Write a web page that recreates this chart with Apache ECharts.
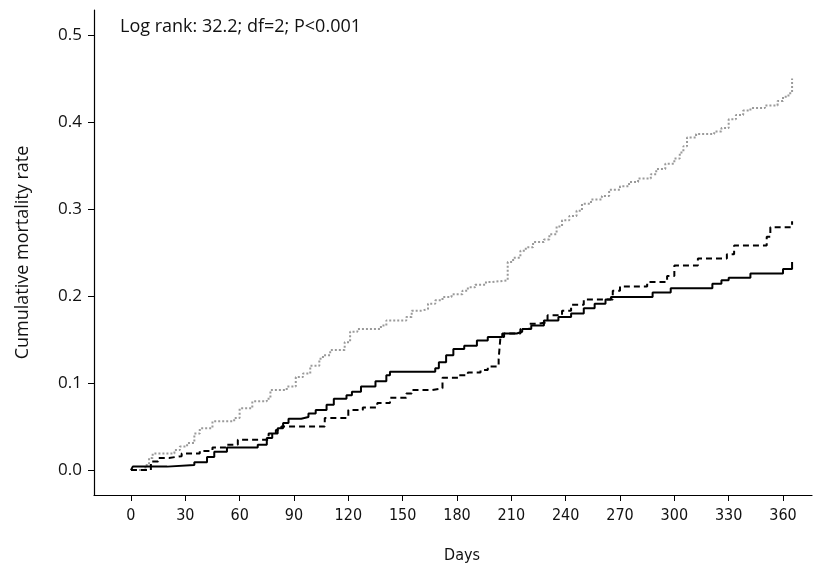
<!DOCTYPE html>
<html>
<head>
<meta charset="utf-8">
<script src="https://cdn.jsdelivr.net/npm/echarts@6/dist/echarts.min.js"></script>
<style>html,body{margin:0;padding:0;background:#fff;}#c{width:824px;height:569px;}</style>
</head>
<body>
<div id="c"></div>
<script>
// Kaplan-Meier style cumulative mortality, [day, rate] step points
const solidGroup = [[0,0],[1,0.004],[20,0.006],[35,0.009],[42,0.015],[46,0.021],[53,0.026],[70,0.029],[75,0.037],[78,0.042],[81,0.048],[84,0.054],[87,0.059],[94,0.061],[98,0.065],[102,0.069],[108,0.075],[112,0.082],[119,0.086],[122,0.09],[127,0.096],[135,0.102],[141,0.109],[143,0.113],[168,0.117],[170,0.124],[174,0.132],[178,0.139],[184,0.143],[191,0.149],[197,0.153],[205,0.157],[213,0.159],[216,0.162],[221,0.166],[228,0.172],[236,0.176],[243,0.18],[250,0.186],[256,0.191],[262,0.196],[265,0.199],[288,0.204],[298,0.209],[321,0.214],[326,0.218],[330,0.221],[342,0.226],[360,0.231],[365,0.239]];
const dashedGroup = [[0,0],[11,0.01],[15,0.014],[21,0.016],[28,0.019],[38,0.022],[45,0.026],[53,0.029],[59,0.035],[76,0.042],[80,0.046],[83,0.05],[107,0.06],[120,0.069],[128,0.072],[136,0.077],[143,0.083],[152,0.088],[155,0.092],[166,0.094],[172,0.106],[181,0.109],[186,0.112],[193,0.115],[197,0.119],[203,0.128],[204,0.153],[206,0.157],[215,0.162],[220,0.168],[224,0.17],[230,0.178],[238,0.183],[243,0.19],[250,0.196],[266,0.206],[270,0.211],[285,0.216],[296,0.223],[300,0.235],[313,0.243],[329,0.248],[333,0.258],[351,0.268],[353,0.279],[365,0.286]];
const dottedGroup = [[0,0],[3,0],[8,0.006],[10,0.014],[12,0.019],[24,0.023],[27,0.027],[31,0.031],[35,0.042],[38,0.048],[45,0.056],[57,0.06],[60,0.071],[67,0.079],[75,0.082],[77,0.092],[86,0.096],[91,0.107],[95,0.111],[99,0.12],[104,0.128],[106,0.132],[110,0.138],[118,0.147],[121,0.159],[125,0.162],[138,0.166],[141,0.172],[152,0.176],[155,0.183],[160,0.185],[164,0.191],[168,0.195],[172,0.199],[177,0.202],[183,0.206],[186,0.21],[190,0.213],[196,0.216],[199,0.218],[208,0.239],[211,0.244],[215,0.252],[218,0.256],[222,0.262],[228,0.265],[231,0.271],[235,0.28],[238,0.287],[242,0.292],[246,0.298],[249,0.306],[254,0.311],[260,0.315],[264,0.322],[270,0.326],[275,0.331],[280,0.335],[287,0.34],[290,0.346],[295,0.352],[300,0.358],[303,0.365],[305,0.372],[307,0.382],[312,0.386],[322,0.389],[326,0.393],[330,0.403],[334,0.408],[338,0.413],[342,0.416],[350,0.419],[357,0.424],[360,0.429],[363,0.433],[365,0.45]];
const xTicks = [0,30,60,90,120,150,180,210,240,270,300,330,360];
const yTicks = [0,0.1,0.2,0.3,0.4,0.5];
const annotation = 'Log rank: 32.2; df=2; P<0.001';

const chart = echarts.init(document.getElementById('c'), null, {renderer:'canvas'});
const axisColor = '#000';
chart.setOption({
  animation: false,
  backgroundColor: '#fff',
  grid: {left: 94, right: 12, top: 10, bottom: 72, containLabel: false},
  xAxis: {
    type: 'value', min: -20.4, max: 376,
    name: 'Days', nameLocation: 'middle', nameGap: 53,
    nameTextStyle: {fontFamily: 'DejaVu Sans Condensed', fontSize: 16, color: '#111', padding: [0,0,0,18]},
    axisLine: {show: true, onZero: false, lineStyle: {color: axisColor, width: 1.2}},
    axisTick: {show: true, customValues: xTicks, length: 6, lineStyle: {color: axisColor, width: 1}},
    axisLabel: {customValues: xTicks, margin: 13, fontFamily: 'DejaVu Sans Condensed', fontSize: 16, color: '#111'},
    splitLine: {show: false}
  },
  yAxis: {
    type: 'value', min: -0.0286, max: 0.5286,
    name: 'Cumulative mortality rate', nameLocation: 'middle', nameGap: 62,
    nameTextStyle: {fontFamily: 'Open Sans', fontSize: 18, color: '#111'},
    axisLine: {show: true, onZero: false, lineStyle: {color: axisColor, width: 1.2}},
    axisTick: {show: true, customValues: yTicks, length: 6, lineStyle: {color: axisColor, width: 1}},
    axisLabel: {customValues: yTicks, margin: 12, fontFamily: 'Open Sans', fontSize: 17, color: '#111',
      formatter: v => v.toFixed(1)},
    splitLine: {show: false}
  },
  graphic: [{
    type: 'text', left: 120, top: 18,
    style: {text: annotation, fontFamily: 'Open Sans', fontSize: 18, fill: '#111'}
  }],
  series: [
    {type: 'line', name: 'Solid', data: solidGroup, step: 'end', showSymbol: false, symbol: 'none',
     lineStyle: {color: '#000', width: 2, type: 'solid'}, z: 3},
    {type: 'line', name: 'Dashed', data: dashedGroup, step: 'end', showSymbol: false, symbol: 'none',
     lineStyle: {color: '#000', width: 2, type: [6,4]}, z: 2},
    {type: 'line', name: 'Dotted', data: dottedGroup, step: 'end', showSymbol: false, symbol: 'none',
     lineStyle: {color: '#9a9a9a', width: 2, type: [2,2]}, z: 1}
  ]
});
</script>
</body>
</html>
